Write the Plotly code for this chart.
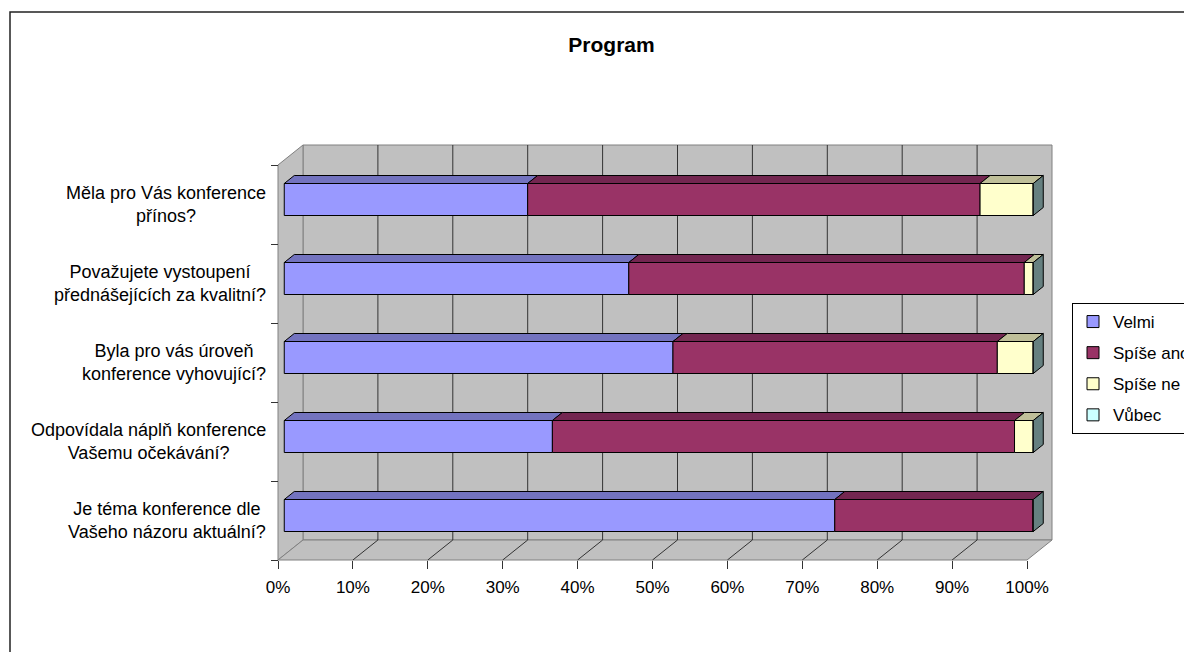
import plotly.graph_objects as go

# ---------------- data ----------------
categories = [
    "Je téma konference dle<br>Vašeho názoru aktuální?",
    "Odpovídala náplň konference<br>Vašemu očekávání?",
    "Byla pro vás úroveň<br>konference vyhovující?",
    "Považujete vystoupení<br>přednášejících za kvalitní?",
    "Měla pro Vás konference<br>přínos?",
]
series_names = ["Velmi", "Spíše ano", "Spíše ne", "Vůbec"]
velmi = [73.5, 35.8, 51.9, 46.0, 32.5]
spise_ano = [26.5, 61.7, 43.3, 52.8, 60.4]
spise_ne = [0.0, 2.5, 4.8, 1.2, 7.1]
vubec = [0.0, 0.0, 0.0, 0.0, 0.0]
tick_values = [0, 10, 20, 30, 40, 50, 60, 70, 80, 90, 100]
tick_labels = ["0%", "10%", "20%", "30%", "40%", "50%", "60%", "70%", "80%", "90%", "100%"]

# ---------------- styles ----------------
front_colors = ["#9999FF", "#993366", "#FFFFCC", "#CCFFFF"]
top_colors = ["#7373BF", "#732650", "#BFBF99", "#99BFBF"]
end_color = "#668080"
wall_color = "#C0C0C0"
edge_color = "#808080"
grid_color = "#333333"
FONT = "Liberation Sans, Arial, sans-serif"

# ---------------- geometry (pixel layout of the 3D frame) ----------------
W, H = 1192, 652
PAGE = 8                         # page body margin of the html page
X0_PX, X100_PX = 278 - PAGE, 1027 - PAGE   # floor front edge: 0% .. 100%
Y0_PX, BAND_PX = 560 - PAGE, 79            # floor front edge and height of one band
UNIT_X = (X100_PX - X0_PX) / 100.0
xr = [(0 - X0_PX) / UNIT_X, (W - X0_PX) / UNIT_X]
yr = [(Y0_PX - H) / BAND_PX, Y0_PX / BAND_PX]
DX = 25 / UNIT_X                # full depth offset in value units
DY = 20 / BAND_PX               # full depth offset in category units
OX, OY = 0.25 * DX, 0.25 * DY   # bar front face depth
TX, TY = 0.40 * DX, 0.40 * DY   # bar thickness in depth
BAR_W = 0.405
n_cat = len(categories)

series = [velmi, spise_ano, spise_ne, vubec]
pos = [i + 0.5 for i in range(n_cat)]

fig = go.Figure()

# cumulative bases
bases = []
cum = [0.0] * n_cat
for vals in series:
    bases.append(cum[:])
    cum = [c + v for c, v in zip(cum, vals)]
totals = cum

# front faces
for k, (name, vals) in enumerate(zip(series_names, series)):
    fig.add_trace(go.Bar(
        y=[p + OY for p in pos], x=vals, base=[b + OX for b in bases[k]],
        orientation="h", width=BAR_W, name=name, legendgroup=name,
        marker=dict(color=front_colors[k], line=dict(color="black", width=1)),
        hoverinfo="skip",
    ))

# top faces
for k, vals in enumerate(series):
    xs, ys = [], []
    for i in range(n_cat):
        if vals[i] <= 0:
            continue
        b = bases[k][i] + OX
        e = b + vals[i]
        t = pos[i] + OY + BAR_W / 2
        xs += [b, e, e + TX, b + TX, b, None]
        ys += [t, t, t + TY, t + TY, t, None]
    if xs:
        fig.add_trace(go.Scatter(
            x=xs, y=ys, mode="lines", fill="toself", fillcolor=top_colors[k],
            line=dict(color="black", width=1), showlegend=False, hoverinfo="skip",
        ))

# end (side) faces
xs, ys = [], []
for i in range(n_cat):
    e = totals[i] + OX
    bt = pos[i] + OY - BAR_W / 2
    tp = pos[i] + OY + BAR_W / 2
    xs += [e, e, e + TX, e + TX, e, None]
    ys += [bt, tp, tp + TY, bt + TY, bt, None]
fig.add_trace(go.Scatter(
    x=xs, y=ys, mode="lines", fill="toself", fillcolor=end_color,
    line=dict(color="black", width=1), showlegend=False, hoverinfo="skip",
))

# walls and gridlines (below traces)
x_lo, x_hi = tick_values[0], tick_values[-1]
c_hi = n_cat
shapes = []
def poly(pts):
    return "M " + " L ".join(f"{px},{py}" for px, py in pts) + " Z"
shapes.append(dict(type="path", xref="x", yref="y", layer="below",
                   path=poly([(x_lo + DX, DY), (x_hi + DX, DY), (x_hi + DX, c_hi + DY), (x_lo + DX, c_hi + DY)]),
                   fillcolor=wall_color, line=dict(color=edge_color, width=1)))
shapes.append(dict(type="path", xref="x", yref="y", layer="below",
                   path=poly([(x_lo, 0), (x_lo + DX, DY), (x_lo + DX, c_hi + DY), (x_lo, c_hi)]),
                   fillcolor=wall_color, line=dict(color=edge_color, width=1)))
shapes.append(dict(type="path", xref="x", yref="y", layer="below",
                   path=poly([(x_lo, 0), (x_hi, 0), (x_hi + DX, DY), (x_lo + DX, DY)]),
                   fillcolor=wall_color, line=dict(color=edge_color, width=1)))
for tv in tick_values[1:-1]:
    shapes.append(dict(type="line", xref="x", yref="y", layer="below",
                       x0=tv + DX, y0=DY, x1=tv + DX, y1=c_hi + DY,
                       line=dict(color=grid_color, width=1)))
    shapes.append(dict(type="line", xref="x", yref="y", layer="below",
                       x0=tv, y0=0, x1=tv + DX, y1=DY,
                       line=dict(color=grid_color, width=1)))
# outer chart border
shapes.append(dict(type="rect", xref="paper", yref="paper", layer="above",
                   x0=(10 - PAGE) / W, y0=-0.1, x1=1.1, y1=1 - (12 - PAGE) / H,
                   line=dict(color="#222222", width=1.5)))

# category labels (centred lines, right-aligned block)
annotations = []
for p, lab in zip(pos, categories):
    annotations.append(dict(
        xref="paper", yref="y", x=(268 - PAGE) / W, y=p, xanchor="right", yanchor="middle",
        align="center", text=lab, showarrow=False,
        font=dict(family=FONT, size=18, color="black"),
    ))

fig.update_layout(
    width=W, height=H,
    margin=dict(l=0, r=0, t=0, b=0, autoexpand=False),
    paper_bgcolor="white", plot_bgcolor="white",
    barmode="overlay",
    showlegend=True,
    title=dict(text="<b>Program</b>", x=(611.5 - PAGE) / W, y=1 - (45 - PAGE) / H,
               xanchor="center", yanchor="middle",
               font=dict(family=FONT, size=21, color="black")),
    legend=dict(x=(1072 - PAGE) / W, y=1 - (303 - PAGE) / H, xanchor="left", yanchor="top",
                bordercolor="black", borderwidth=1, bgcolor="white",
                font=dict(family=FONT, size=17, color="black"),
                traceorder="grouped", tracegroupgap=6, itemwidth=30),
    shapes=shapes,
    annotations=annotations,
    xaxis=dict(range=xr, domain=[0, 1], anchor="free", position=(H - Y0_PX) / H,
               tickvals=tick_values, ticktext=tick_labels, ticks="outside", ticklen=8,
               tickcolor="#333333", showgrid=False, zeroline=False, showline=False,
               tickfont=dict(family=FONT, size=17, color="black"), ticklabelstandoff=4,
               fixedrange=True),
    yaxis=dict(range=yr, domain=[0, 1], anchor="free", position=X0_PX / W,
               tickvals=list(range(n_cat + 1)), ticks="outside", ticklen=7,
               tickcolor="#333333", showticklabels=False, showgrid=False, zeroline=False,
               showline=False, fixedrange=True),
    font=dict(family=FONT),
)

fig.write_html("out.html")
